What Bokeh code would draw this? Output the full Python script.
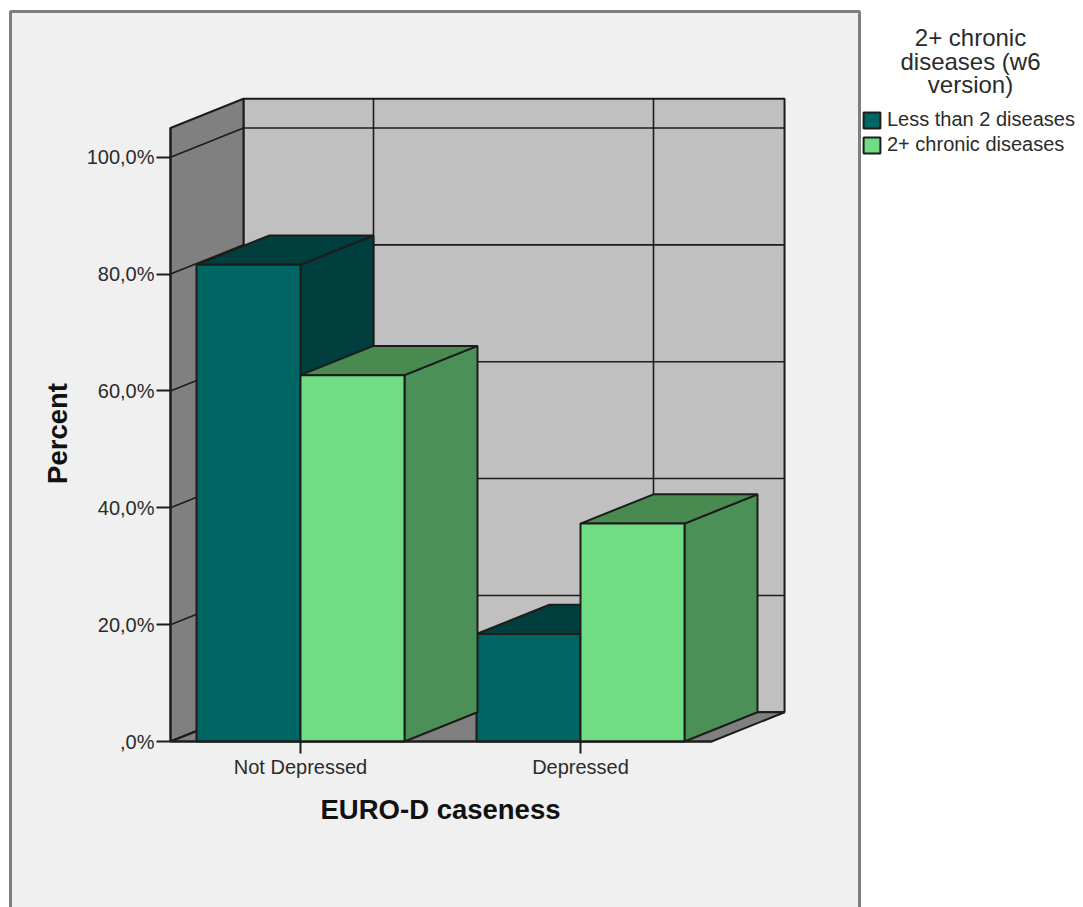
from bokeh.embed import file_html
from bokeh.models import FixedTicker, Label, Legend, LegendItem, LinearAxis, Range1d
from bokeh.plotting import figure
from bokeh.resources import INLINE

# Percent of respondents in each EURO-D group, split by chronic disease count
categories = ["Not Depressed", "Depressed"]
series_names = ["Less than 2 diseases", "2+ chronic diseases"]
less_than_2 = [81.6, 18.4]
two_plus = [62.7, 37.3]
y_ticks = [0, 20, 40, 60, 80, 100]
y_tick_labels = [",0%", "20,0%", "40,0%", "60,0%", "80,0%", "100,0%"]
legend_title = ["2+ chronic", "diseases (w6", "version)"]

# Page size and the mapping between axis units and page pixels
W, H = 1083, 907
PX_PER_CAT = 280.0
PX_PER_PCT = 5.843
FIRST_CAT_PX = 300.0
BASELINE_PX = 741.0

# Oblique projection of the box: depth offset in axis units, and wall extents
DEPTH_X = 0.2607
DEPTH_Y = 5.0
BAR_W = 0.3714
X_MIN, X_MAX = -0.4643, 1.468
Y_TOP = 105

LINE = "#1c1c1c"
FONT = "Liberation Sans"
TEXT = "#2b2b2b"


def page_x(px):
    return (px - FIRST_CAT_PX) / PX_PER_CAT


def page_y(py):
    return (BASELINE_PX - py) / PX_PER_PCT


p = figure(width=W, height=H, output_backend="svg", toolbar_location=None,
           x_axis_type=None, y_axis_type=None,
           x_range=Range1d(page_x(0), page_x(W)), y_range=Range1d(page_y(H), page_y(0)),
           min_border=0, background_fill_color="white", border_fill_color="white",
           outline_line_color=None)
p.grid.visible = False

# Grey chart panel behind everything, running off the bottom of the page
p.quad(left=[page_x(10)], right=[page_x(859)], top=[page_y(11)], bottom=[page_y(H + 20)],
       fill_color="#f0f0f0", line_color="#7f7f7f", line_width=3)

# Back wall, side wall and floor of the box
xb0, xb1 = X_MIN + DEPTH_X, X_MAX + DEPTH_X
p.patch([xb0, xb1, xb1, xb0], [DEPTH_Y, DEPTH_Y, Y_TOP + DEPTH_Y, Y_TOP + DEPTH_Y],
        fill_color="#c0c0c0", line_color=LINE, line_width=2)
p.patch([X_MIN, xb0, xb0, X_MIN], [0, DEPTH_Y, Y_TOP + DEPTH_Y, Y_TOP],
        fill_color="#808080", line_color=LINE, line_width=2)
p.patch([X_MIN, xb0, xb1, X_MAX], [0, DEPTH_Y, DEPTH_Y, 0],
        fill_color="#808080", line_color=LINE, line_width=2)

# Gridlines wrap from the side wall onto the back wall
p.segment(x0=[X_MIN] * len(y_ticks), y0=y_ticks,
          x1=[xb0] * len(y_ticks), y1=[t + DEPTH_Y for t in y_ticks],
          line_color=LINE, line_width=1.6)
p.segment(x0=[xb0] * len(y_ticks), y0=[t + DEPTH_Y for t in y_ticks],
          x1=[xb1] * len(y_ticks), y1=[t + DEPTH_Y for t in y_ticks],
          line_color=LINE, line_width=1.6)
cat_pos = list(range(len(categories)))
p.segment(x0=[c + DEPTH_X for c in cat_pos], y0=[DEPTH_Y] * 2,
          x1=[c + DEPTH_X for c in cat_pos], y1=[Y_TOP + DEPTH_Y] * 2,
          line_color=LINE, line_width=1.6)


def draw_series(values, lefts, front, top, side):
    rights = [x + BAR_W for x in lefts]
    p.patches([[r, r + DEPTH_X, r + DEPTH_X, r] for r in rights],
              [[0, DEPTH_Y, v + DEPTH_Y, v] for v in values],
              fill_color=side, line_color=LINE, line_width=2)
    p.patches([[l, l + DEPTH_X, r + DEPTH_X, r] for l, r in zip(lefts, rights)],
              [[v, v + DEPTH_Y, v + DEPTH_Y, v] for v in values],
              fill_color=top, line_color=LINE, line_width=2)
    return p.quad(left=lefts, right=rights, bottom=[0] * len(values), top=values,
                  fill_color=front, line_color=LINE, line_width=2)


r1 = draw_series(less_than_2, [c - BAR_W for c in cat_pos], "#006663", "#003f3e", "#003f3e")
r2 = draw_series(two_plus, cat_pos, "#70dc84", "#488a50", "#4b9157")

# Axes sit inside the full-page frame at the corner of the box
y_axis = LinearAxis(ticker=FixedTicker(ticks=y_ticks),
                    major_label_overrides=dict(zip(y_ticks, y_tick_labels)),
                    bounds=(0, Y_TOP), fixed_location=X_MIN)
x_axis = LinearAxis(ticker=FixedTicker(ticks=cat_pos),
                    major_label_overrides=dict(zip(cat_pos, categories)),
                    bounds=(X_MIN, X_MAX), fixed_location=0)
for axis in (x_axis, y_axis):
    axis.axis_line_color = LINE
    axis.axis_line_width = 2
    axis.major_tick_line_color = LINE
    axis.major_tick_line_width = 2
    axis.major_tick_in = 0
    axis.minor_tick_line_color = None
    axis.major_label_text_font = FONT
    axis.major_label_text_font_size = "20px"
    axis.major_label_text_color = TEXT
y_axis.major_tick_out = 14
y_axis.major_label_standoff = 2
x_axis.major_tick_out = 12
x_axis.major_label_standoff = 2
p.add_layout(y_axis, "left")
p.add_layout(x_axis, "below")


def page_label(px, py, text, size, color=TEXT, style="normal", angle=0.0):
    """Place a text by page pixels, measured from the top-left corner."""
    p.add_layout(Label(x=px, y=H - py, x_units="screen", y_units="screen", text=text,
                       text_align="center", text_baseline="middle", angle=angle,
                       text_font=FONT, text_font_size=size, text_color=color,
                       text_font_style=style))


page_label(57, 433, "Percent", "27.5px", "#111111", "bold", angle=1.5708)
page_label(440, 809, "EURO-D caseness", "27.5px", "#111111", "bold")

# Legend in the white margin to the right of the panel
legend = Legend(items=[LegendItem(label=series_names[0], renderers=[r1]),
                       LegendItem(label=series_names[1], renderers=[r2])],
                location=(861, 751), padding=0, margin=0, spacing=2,
                glyph_width=21, glyph_height=20, label_standoff=5,
                background_fill_alpha=0, border_line_color=None,
                label_text_font=FONT, label_text_font_size="20px",
                label_text_color=TEXT)
p.add_layout(legend)

for i, line in enumerate(legend_title):
    page_label(970, 37 + 23.5 * i, line, "24px")

open("out.html", "w").write(file_html(p, INLINE))
